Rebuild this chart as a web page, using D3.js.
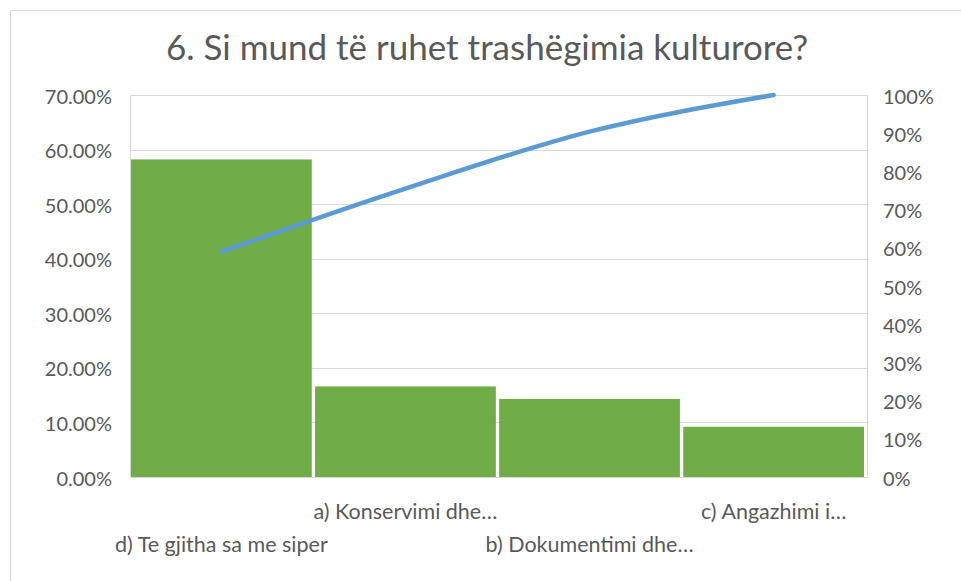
<!DOCTYPE html>
<html><head><meta charset="utf-8">
<script src="https://cdn.jsdelivr.net/npm/d3@7/dist/d3.min.js"></script>
<style>html,body{margin:0;padding:0;background:#fff;}svg{display:block;}</style>
</head><body>
<svg id="chart" width="961" height="581"></svg>
<script>
const title = "6. Si mund të ruhet trashëgimia kulturore?";
const categories = ["d) Te gjitha sa me siper", "a) Konservimi dhe…", "b) Dokumentimi dhe…", "c) Angazhimi i…"];
const values = [0.582, 0.166, 0.143, 0.092];
const cumulative = [0.59, 0.755, 0.904, 1.0];
const leftTicks = [0, 0.1, 0.2, 0.3, 0.4, 0.5, 0.6, 0.7];
const rightTicks = [0, 0.1, 0.2, 0.3, 0.4, 0.5, 0.6, 0.7, 0.8, 0.9, 1.0];

const svg = d3.select("#chart");
const font = "Lato, 'Open Sans', sans-serif";
const txt = "#595959";
const plot = {left: 130, right: 867, top: 95, bottom: 477};

svg.append("rect").attr("x", 10.5).attr("y", 10.5).attr("width", 1000).attr("height", 1000)
  .attr("fill", "none").attr("stroke", "#D9D9D9");

svg.append("text").attr("x", 487).attr("y", 60).attr("text-anchor", "middle")
  .attr("font-family", font).attr("font-size", 35).attr("fill", txt).text(title);

const x = d3.scaleBand().domain(categories).range([131, 864]).paddingInner(0.018).paddingOuter(0);
const yL = d3.scaleLinear().domain([0, 0.7]).range([plot.bottom, plot.top]);
const yR = d3.scaleLinear().domain([0, 1]).range([plot.bottom, plot.top]);

// gridlines
svg.append("g").selectAll("line").data(leftTicks).join("line")
  .attr("x1", plot.left).attr("x2", plot.right)
  .attr("y1", d => Math.round(yL(d)) + 0.5).attr("y2", d => Math.round(yL(d)) + 0.5)
  .attr("stroke", "#D9D9D9").attr("stroke-width", 1);
svg.append("rect").attr("x", plot.left + 0.5).attr("y", plot.top + 0.5)
  .attr("width", plot.right - plot.left).attr("height", plot.bottom - plot.top)
  .attr("fill", "none").attr("stroke", "#D9D9D9");

// bars
svg.append("g").selectAll("rect").data(values).join("rect")
  .attr("x", (d, i) => x(categories[i]))
  .attr("width", x.bandwidth())
  .attr("y", d => yL(d))
  .attr("height", d => yL(0) - yL(d))
  .attr("fill", "#70AD47");

// line
const line = d3.line()
  .x((d, i) => x(categories[i]) + x.bandwidth() / 2)
  .y(d => yR(d))
  .curve(d3.curveMonotoneX);
svg.append("path").datum(cumulative).attr("d", line)
  .attr("fill", "none").attr("stroke", "#5B9BD5").attr("stroke-width", 4.5)
  .attr("stroke-linecap", "round").attr("stroke-linejoin", "round");

// left axis
const leftAxis = d3.axisLeft(yL).tickValues(leftTicks).tickFormat(d3.format(".2%")).tickSize(0).tickPadding(0);
const gL = svg.append("g").attr("transform", "translate(112,0)").call(leftAxis);
gL.select(".domain").remove();
gL.selectAll("text").attr("font-family", font).attr("font-size", 20).attr("fill", txt).attr("dy", "0.4em");

// right axis
const rightAxis = d3.axisRight(yR).tickValues(rightTicks).tickFormat(d3.format(".0%")).tickSize(0).tickPadding(0);
const gR = svg.append("g").attr("transform", "translate(883,0)").call(rightAxis);
gR.select(".domain").remove();
gR.selectAll("text").attr("font-family", font).attr("font-size", 20).attr("fill", txt).attr("dy", "0.4em");

// category labels (staggered)
svg.append("g").selectAll("text").data(categories).join("text")
  .attr("x", d => x(d) + x.bandwidth() / 2)
  .attr("y", (d, i) => i % 2 === 1 ? 519 : 552)
  .attr("text-anchor", "middle")
  .attr("font-family", font).attr("font-size", 21.5).attr("fill", txt)
  .text(d => d);
</script>
</body></html>
